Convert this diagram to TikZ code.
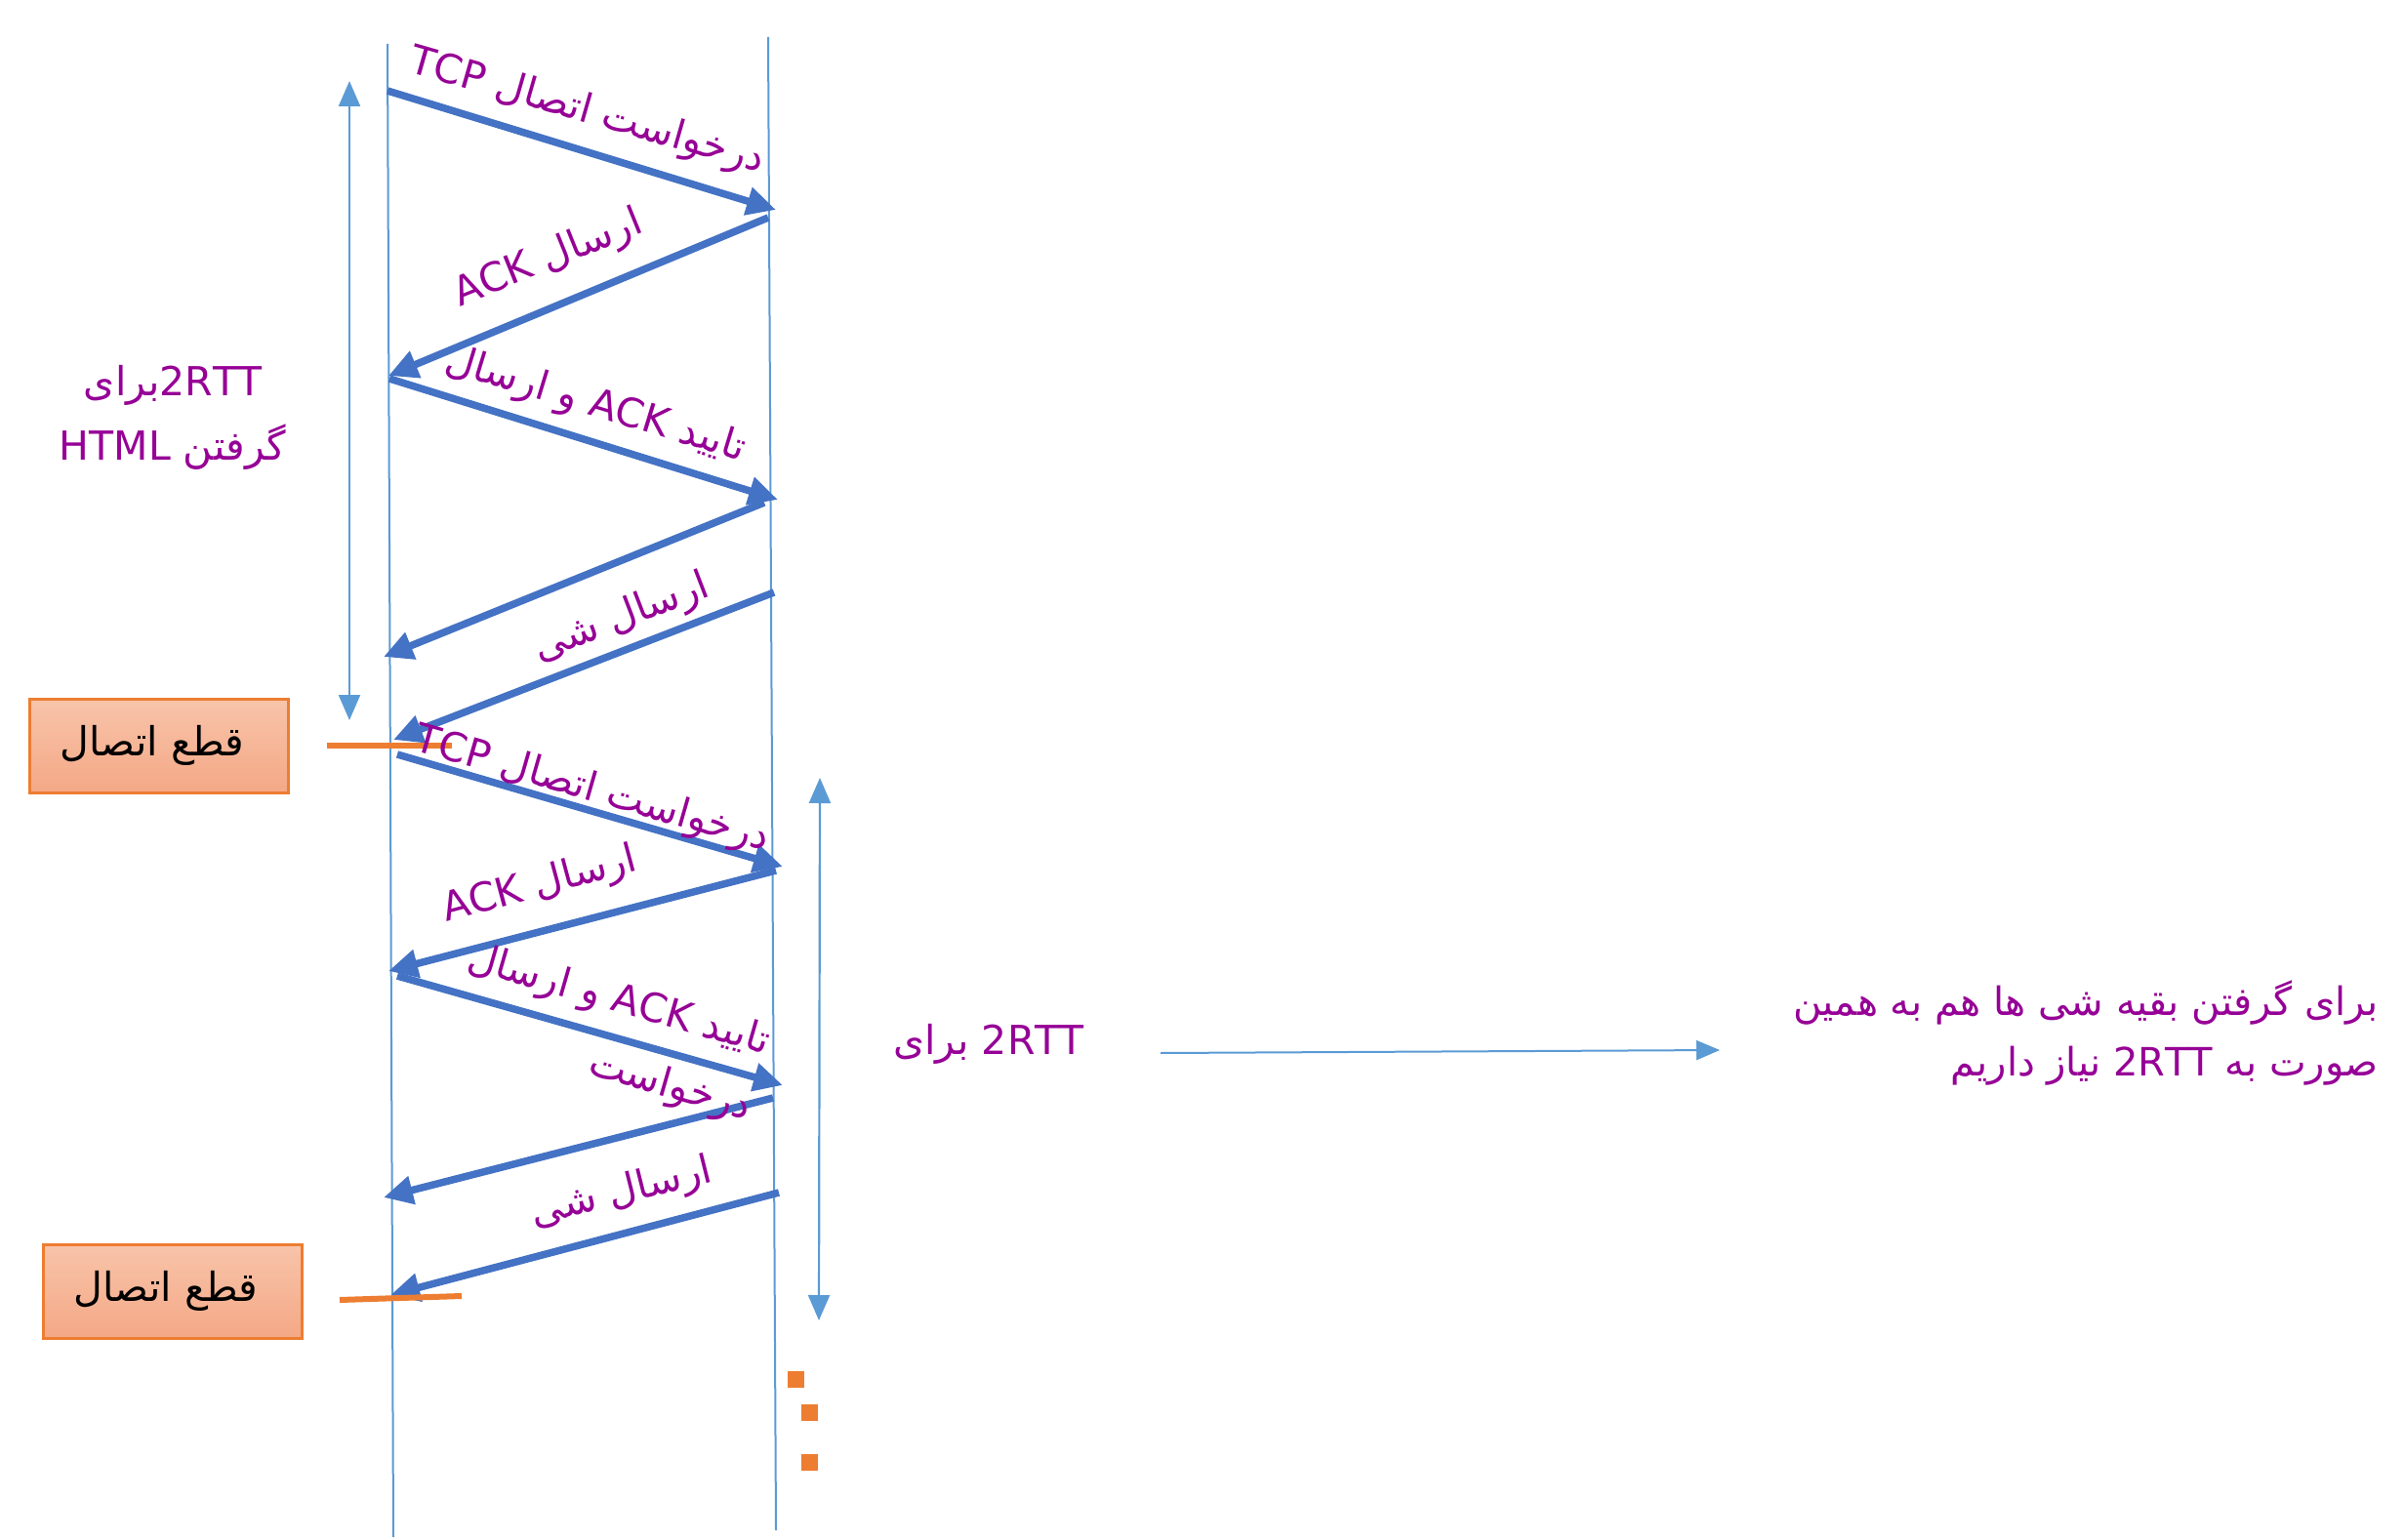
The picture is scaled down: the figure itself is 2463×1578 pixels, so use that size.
\documentclass[tikz,border=0pt]{standalone}
\usepackage{fontspec}
\usetikzlibrary{arrows.meta}
\TeXXeTstate=1
\newfontfamily\arabicfont[Script=Arabic]{DejaVu Sans}
\definecolor{lifeline}{RGB}{91,155,213}
\definecolor{msg}{RGB}{68,114,196}
\definecolor{lbl}{RGB}{150,0,150}
\definecolor{orng}{RGB}{237,125,49}
\definecolor{boxtop}{RGB}{248,196,170}
\definecolor{boxbot}{RGB}{244,168,134}
\begin{document}
\begin{tikzpicture}[x=1pt,y=-1pt,
  lifelinestyle/.style={draw=lifeline, line width=2pt},
  msgarrow/.style={draw=msg, line width=7.5pt, -{Triangle[length=30pt,width=28pt]}},
  spanarrow/.style={draw=lifeline, line width=2.2pt, {Triangle[length=26pt,width=22pt]}-{Triangle[length=26pt,width=22pt]}},
  notearrow/.style={draw=lifeline, line width=2pt, -{Triangle[length=24pt,width=20pt]}},
  msglabel/.style={font=\arabicfont\fontsize{41}{48}\selectfont, text=lbl, inner sep=0pt},
  plainlabel/.style={font=\arabicfont\fontsize{41}{66}\selectfont, text=lbl, inner sep=0pt},
  closebox/.style={draw=orng, line width=3pt, top color=boxtop, bottom color=boxbot, minimum width=265pt, minimum height=96pt},
  closetext/.style={font=\arabicfont\fontsize{41}{48}\selectfont, text=black, inner sep=0pt},
  closeline/.style={draw=orng, line width=6pt},
  dotsq/.style={fill=orng, minimum size=17pt, inner sep=0pt}
]
\useasboundingbox (0,0) rectangle (2463,1578);
\fill[white] (0,0) rectangle (2463,1578);

% lifelines
\coordinate (cT) at (397,45);  \coordinate (cB) at (403,1575);
\coordinate (sT) at (787,38);  \coordinate (sB) at (795,1568);
\draw[lifelinestyle] (cT) -- (cB);
\draw[lifelinestyle] (sT) -- (sB);

% message end points
\coordinate (a1s) at (397,93);   \coordinate (a1e) at (795,215);
\coordinate (a2s) at (787,223);  \coordinate (a2e) at (398,385);
\coordinate (a3s) at (399,388);  \coordinate (a3e) at (797,512);
\coordinate (a4s) at (783,515);  \coordinate (a4e) at (393,673);
\coordinate (a5s) at (793,607);  \coordinate (a5e) at (403,758);
\coordinate (a6s) at (407,773);  \coordinate (a6e) at (802,888);
\coordinate (a7s) at (795,892);  \coordinate (a7e) at (398,995);
\coordinate (a8s) at (407,1000); \coordinate (a8e) at (802,1112);
\coordinate (a9s) at (792,1125); \coordinate (a9e) at (393,1227);
\coordinate (a10s) at (798,1222); \coordinate (a10e) at (400,1327);

\foreach \i in {1,...,10} {\draw[msgarrow] (a\i s) -- (a\i e);}

% span arrows
\coordinate (sp1t) at (358,83);  \coordinate (sp1b) at (358,738);
\coordinate (sp2t) at (840,797); \coordinate (sp2b) at (839,1353);
\draw[spanarrow] (sp1t) -- (sp1b);
\draw[spanarrow] (sp2t) -- (sp2b);

% close markers
\coordinate (cl1a) at (335,764);  \coordinate (cl1b) at (463,764);
\coordinate (cl2a) at (348,1332); \coordinate (cl2b) at (473,1328);
\draw[closeline] (cl1a) -- (cl1b);
\draw[closeline] (cl2a) -- (cl2b);

\node[closebox] (box1) at (163,764) {};
\node[closetext] (box1t) at (156,764) {\beginR قطع اتصال\endR};
\node[closebox] (box2) at (177,1323) {};
\node[closetext] (box2t) at (170,1323) {\beginR قطع اتصال\endR};

% dots
\node[dotsq] (d1) at (815,1413) {};
\node[dotsq] (d2) at (829,1447) {};
\node[dotsq] (d3) at (829,1498) {};

% message labels
\node[msglabel, rotate=-16] (l1) at (601,115) {\beginR درخواست اتصال \beginL TCP\endL\endR};
\node[msglabel, rotate=22] (l2) at (562,266) {\beginR ارسال \beginL ACK\endL\endR};
\node[msglabel, rotate=-17] (l3) at (610,416) {\beginR تایید \beginL ACK\endL{} و ارسال\endR};
\node[msglabel, rotate=21] (l4) at (637,634) {\beginR ارسال شی\endR};
\node[msglabel, rotate=-16] (l6) at (606,810) {\beginR درخواست اتصال \beginL TCP\endL\endR};
\node[msglabel, rotate=15] (l7) at (553,908) {\beginR ارسال \beginL ACK\endL\endR};
\node[msglabel, rotate=-16, align=right, font=\arabicfont\fontsize{41}{70}\selectfont] (l8) at (624,1060) {\beginR تایید \beginL ACK\endL{} و ارسال\endR\\\beginR درخواست\endR};
\node[msglabel, rotate=14] (l10) at (637,1223) {\beginR ارسال شی\endR};

% side texts
\node[plainlabel, align=center] (t1) at (177,428) {\beginR\beginL 2RTT\endL برای\endR\\\beginR گرفتن \beginL HTML\endL\endR};
\node[plainlabel] (t2) at (1013,1070) {\beginR\beginL 2RTT\endL{} برای\endR};
\node[plainlabel, align=right, anchor=east, font=\arabicfont\fontsize{40}{62}\selectfont] (t3) at (2437,1058) {\beginR برای گرفتن بقیه  شی ها هم به همین\endR\\\beginR صورت به \beginL 2RTT\endL{} نیاز داریم\endR};

\coordinate (n1) at (1189,1079); \coordinate (n2) at (1762,1076);
\draw[notearrow] (n1) -- (n2);
\end{tikzpicture}
\end{document}
